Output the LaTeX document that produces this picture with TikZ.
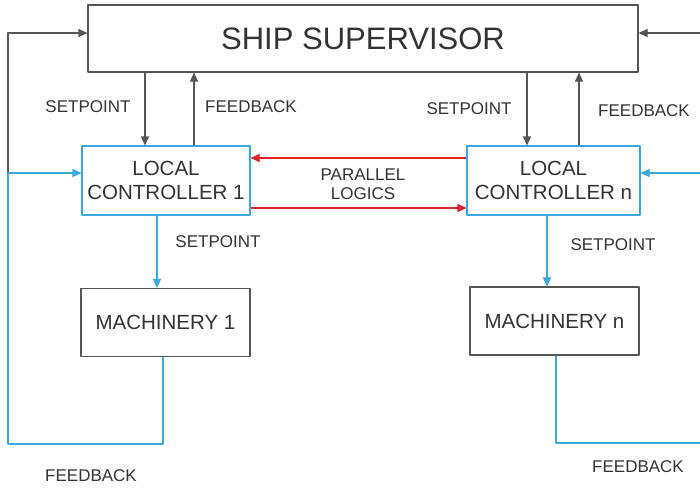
\documentclass[tikz,border=0pt]{standalone}
\usepackage{fontspec}
\setmainfont{Liberation Sans}
\usetikzlibrary{arrows.meta}
\definecolor{txtgray}{HTML}{333333}
\definecolor{boxgray}{HTML}{555555}
\definecolor{ctrlblue}{HTML}{3AA8DE}
\definecolor{logicred}{HTML}{E0222C}
\tikzset{
	supbox/.style={draw=boxgray, line width=1.1pt, minimum width=550pt, minimum height=67pt, inner sep=0pt},
	ctrlbox/.style={draw=ctrlblue, line width=1.1pt, minimum height=69pt, inner sep=0pt, align=center, font=\fontsize{20.5}{24}\selectfont},
	machbox/.style={draw=boxgray, line width=1.1pt, minimum width=169pt, minimum height=68pt, inner sep=0pt, font=\fontsize{20.5}{24}\selectfont},
	lbl/.style={font=\fontsize{17}{19}\selectfont, inner sep=0pt},
}
\begin{document}
\begin{tikzpicture}[x=1pt, y=1pt, line join=round, text=txtgray, >={Triangle[length=9pt,width=8pt]}]
	\useasboundingbox (0,0) rectangle (700,-488);
	% boxes
	\node[supbox, font=\fontsize{31}{34}\selectfont] (sup) at (363,-38.5) {SHIP SUPERVISOR};
	\node[ctrlbox, minimum width=168pt] (lc1) at (166,-180.5) {LOCAL\\CONTROLLER 1};
	\node[ctrlbox, minimum width=173pt] (lcn) at (553.5,-180.5) {LOCAL\\CONTROLLER n};
	\node[machbox] (m1) at (165.5,-322.5) {MACHINERY 1};
	\node[machbox] (mn) at (554.5,-321) {MACHINERY n};
	% loop corners
	\coordinate (lbot) at (8,-444);
	\coordinate (ljoin) at (8,-173);
	\coordinate (ltop) at (8,-33);
	\coordinate (rtop) at (700,-33);
	\coordinate (rmid) at (700,-173);
	\coordinate (rbot) at (700,-443);
	% supervisor <-> local controllers
	\begin{scope}[draw=boxgray, line width=1.1pt]
		\draw[->] ([xshift=-21pt]lc1.north |- sup.south) -- ([xshift=-21pt]lc1.north);
		\draw[->] ([xshift=28pt]lc1.north) -- ([xshift=28pt]lc1.north |- sup.south);
		\draw[->] ([xshift=-26.5pt]lcn.north |- sup.south) -- ([xshift=-26.5pt]lcn.north);
		\draw[->] ([xshift=25.5pt]lcn.north) -- ([xshift=25.5pt]lcn.north |- sup.south);
		\draw[->] (ljoin) -- (ltop) -- (ltop -| sup.west);
		\draw[->] (rtop) -- (rtop -| sup.east);
	\end{scope}
	% parallel logics
	\begin{scope}[draw=logicred, line width=1.1pt]
		\draw[->] ([yshift=22.5pt]lcn.west) -- ([yshift=22.5pt]lcn.west -| lc1.east);
		\draw[->] ([yshift=-27.5pt]lc1.east) -- ([yshift=-27.5pt]lc1.east -| lcn.west);
	\end{scope}
	% controllers -> machinery, feedback loops
	\begin{scope}[draw=ctrlblue, line width=1.1pt]
		\draw[->] ([xshift=-9pt]lc1.south) -- ([xshift=-9pt]lc1.south |- m1.north);
		\draw[->] ([xshift=-6.5pt]lcn.south) -- ([xshift=-6.5pt]lcn.south |- mn.north);
		\draw[->] ([xshift=-2.5pt]m1.south) |- (lbot) -- (ljoin) -- (ljoin -| lc1.west);
		\draw ([xshift=1.5pt]mn.south) |- (rbot);
		\draw[->] (rmid) -- (rmid -| lcn.east);
	\end{scope}
	% labels
	\node[lbl] (sp1) at (88,-107) {SETPOINT};
	\node[lbl] (fb1) at (251,-107) {FEEDBACK};
	\node[lbl] (spn) at (469,-109) {SETPOINT};
	\node[lbl] (fbn) at (644,-111) {FEEDBACK};
	\node[lbl, align=center, font=\fontsize{17}{19.5}\selectfont] (par) at (363,-184) {PARALLEL\\LOGICS};
	\node[lbl] (msp1) at (218,-242) {SETPOINT};
	\node[lbl] (mspn) at (613,-245) {SETPOINT};
	\node[lbl] (mfb1) at (91,-476) {FEEDBACK};
	\node[lbl] (mfbn) at (638,-467) {FEEDBACK};
\end{tikzpicture}
\end{document}
